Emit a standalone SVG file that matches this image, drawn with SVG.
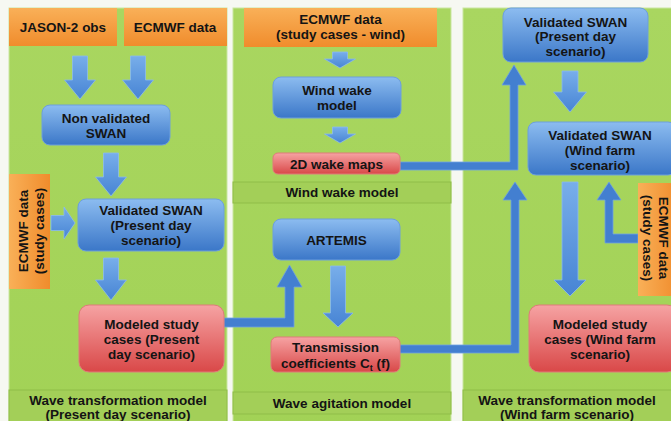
<svg xmlns="http://www.w3.org/2000/svg" width="671" height="421" viewBox="0 0 671 421">
<defs>
<linearGradient id="gBlue" x1="0" y1="0" x2="0" y2="1"><stop offset="0" stop-color="#8cbcf0"/><stop offset="1" stop-color="#3b77c8"/></linearGradient>
<linearGradient id="gRed" x1="0" y1="0" x2="0" y2="1"><stop offset="0" stop-color="#f6a3a3"/><stop offset="1" stop-color="#d94848"/></linearGradient>
<linearGradient id="gOrange" x1="0" y1="0" x2="0" y2="1"><stop offset="0" stop-color="#f9b058"/><stop offset="1" stop-color="#f08c2c"/></linearGradient>
<linearGradient id="gOrangeH" x1="0" y1="0" x2="1" y2="0"><stop offset="0" stop-color="#f9b058"/><stop offset="1" stop-color="#f08c2c"/></linearGradient>
<linearGradient id="gArrow" x1="0" y1="0" x2="0" y2="1"><stop offset="0" stop-color="#78aeea"/><stop offset="1" stop-color="#4784d4"/></linearGradient>
<linearGradient id="gPanel" x1="0" y1="0" x2="0" y2="1"><stop offset="0" stop-color="#a9d660"/><stop offset="1" stop-color="#a2d256"/></linearGradient>
</defs>
<style>
.panel{fill:url(#gPanel);stroke:#c9e6a0;stroke-width:1}
.bar{fill:#a3cf58;stroke:#8fbd48;stroke-width:1}
.blue{fill:url(#gBlue);stroke:#6d9fdc;stroke-width:1}
.red{fill:url(#gRed);stroke:#e07a7a;stroke-width:1}
.orange{fill:url(#gOrange)}
.orangeh{fill:url(#gOrangeH)}
.arr{fill:url(#gArrow);stroke:#8bbbee;stroke-width:0.8}
.con{fill:#437fd0;stroke:#6fa2e2;stroke-width:0.8}
text{font-family:"Liberation Sans",Arial,sans-serif;font-weight:bold;font-size:13.5px;fill:#141414;text-anchor:middle}
</style>
<rect x="0" y="0" width="671" height="421" fill="#f6f8f2"/>
<g id="panels">
<rect class="panel" x="9" y="8" width="218" height="420"/>
<rect class="panel" x="233" y="8" width="218" height="420"/>
<rect class="panel" x="463" y="8" width="215" height="420"/>
</g>
<g id="labels">
<g id="label-wave-present"><rect class="bar" x="9" y="390" width="218" height="40"/><text x="118" y="405">Wave transformation model</text><text x="118" y="419">(Present day scenario)</text></g>
<g id="label-wind-wake"><rect class="bar" x="233" y="182" width="218" height="21"/><text x="342" y="197">Wind wake model</text></g>
<g id="label-wave-agitation"><rect class="bar" x="233" y="392" width="218" height="22"/><text x="342" y="408">Wave agitation model</text></g>
<g id="label-wave-windfarm"><rect class="bar" x="463" y="390" width="215" height="40"/><text x="567" y="405">Wave transformation model</text><text x="567" y="419">(Wind farm scenario)</text></g>
</g>
<g id="connectors">
<path class="arr" d="M72.5,56 H87.5 V80 H95.5 L80,99 L64.5,80 H72.5 Z"/>
<path class="arr" d="M130.5,56 H145.5 V80 H153.5 L138,99 L122.5,80 H130.5 Z"/>
<path class="arr" d="M103.5,153 H118.5 V177 H126.5 L111,196 L95.5,177 H103.5 Z"/>
<path class="arr" d="M51,215.5 H64 V207 L75,223 L64,239 V230.5 H51 Z"/>
<path class="arr" d="M103.5,258 H118.5 V280 H126.5 L111,300 L95.5,280 H103.5 Z"/>
<path class="arr" d="M332.5,52 H347.5 V59 H355.5 L340,68 L324.5,59 H332.5 Z"/>
<path class="arr" d="M332.5,127 H347.5 V134 H355.5 L340,143 L324.5,134 H332.5 Z"/>
<path class="arr" d="M330.5,266 H345.5 V313 H353 L338,327 L323,313 H330.5 Z"/>
<path class="arr" d="M562,71 H578 V92 H586.5 L570,112 L553.5,92 H562 Z"/>
<path class="arr" d="M562,182 H578 V280 H586 L570,296 L554,280 H562 Z"/>
<path class="con" d="M224,318 H285 V287 H277 L289.5,265 L302,287 H294 V327 H224 Z"/>
<path class="con" d="M400,162 H510 V85 H502 L514,65 L526,85 H518 V170 H400 Z"/>
<path class="con" d="M400,345 H511 V200 H503 L515,182 L527,200 H519 V353 H400 Z"/>
<path class="con" d="M638,234 H613 V200 H621 L609,182 L597,200 H605 V243 H638 Z"/>
</g>
<g id="jason2-obs"><rect class="orange" x="9" y="8" width="108" height="38"/><text x="63" y="32">JASON-2 obs</text></g>
<g id="ecmwf-data"><rect class="orange" x="124" y="8" width="103" height="38"/><text x="175" y="32">ECMWF data</text></g>
<g id="non-validated-swan"><rect class="blue" x="42" y="105" width="128" height="40" rx="8"/><text x="106" y="123">Non validated</text><text x="106" y="138">SWAN</text></g>
<g id="ecmwf-study-left"><rect class="orangeh" x="9" y="174" width="41" height="115"/><g transform="translate(30,231) rotate(-90)"><text x="0" y="-2.5">ECMWF data</text><text x="0" y="14">(study cases)</text></g></g>
<g id="validated-swan-present"><rect class="blue" x="78" y="199" width="146" height="52" rx="8"/><text x="151" y="215">Validated SWAN</text><text x="151" y="230">(Present day</text><text x="151" y="245">scenario)</text></g>
<g id="modeled-present"><rect class="red" x="79" y="305" width="145" height="67" rx="10"/><text x="151.5" y="329">Modeled study</text><text x="151.5" y="344">cases (Present</text><text x="151.5" y="359">day scenario)</text></g>
<g id="ecmwf-wind"><rect class="orange" x="244" y="8" width="193" height="39"/><text x="340.5" y="24">ECMWF data</text><text x="340.5" y="39">(study cases - wind)</text></g>
<g id="wind-wake-model"><rect class="blue" x="273" y="77" width="128" height="41" rx="8"/><text x="337" y="95">Wind wake</text><text x="337" y="110">model</text></g>
<g id="wake-maps"><rect class="red" x="273" y="153" width="127" height="21" rx="5"/><text x="336.5" y="168.5">2D wake maps</text></g>
<g id="artemis"><rect class="blue" x="273" y="219" width="127" height="41" rx="8"/><text x="336.5" y="245">ARTEMIS</text></g>
<g id="transmission"><rect class="red" x="271" y="337" width="129" height="35" rx="6"/><text x="335.5" y="352">Transmission</text><text x="335.5" y="368">coefficients C<tspan font-size="9" dy="3">t</tspan><tspan dy="-3"> (f)</tspan></text></g>
<g id="validated-swan-present-2"><rect class="blue" x="503" y="8" width="145" height="54" rx="8"/><text x="575.5" y="26.5">Validated SWAN</text><text x="575.5" y="41">(Present day</text><text x="575.5" y="55.5">scenario)</text></g>
<g id="validated-swan-windfarm"><rect class="blue" x="528" y="122" width="148" height="53" rx="8"/><text x="600" y="140">Validated SWAN</text><text x="600" y="155">(Wind farm</text><text x="600" y="170">scenario)</text></g>
<g id="ecmwf-study-right"><rect class="orangeh" x="638" y="183" width="40" height="113"/><g transform="translate(656,238) rotate(90)"><text x="0" y="-3">ECMWF data</text><text x="0" y="13">(study cases)</text></g></g>
<g id="modeled-windfarm"><rect class="red" x="529" y="305" width="148" height="67" rx="10"/><text x="600" y="329">Modeled study</text><text x="600" y="344">cases (Wind farm</text><text x="600" y="359">scenario)</text></g>
</svg>
